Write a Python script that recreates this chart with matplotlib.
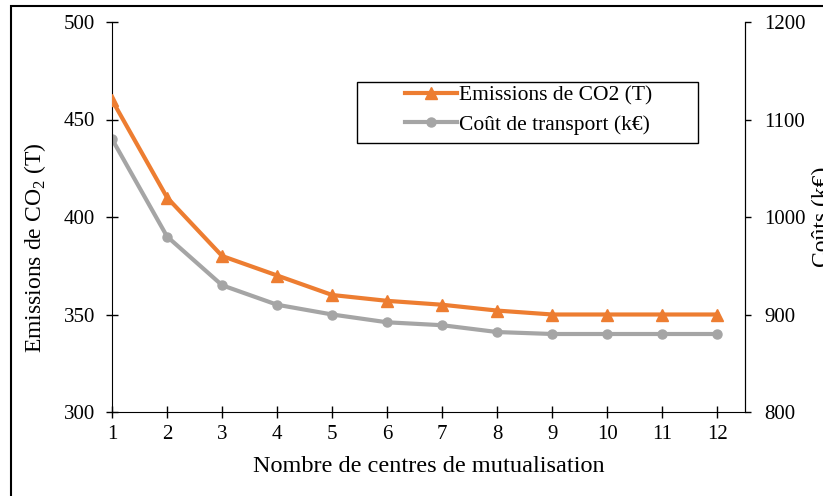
import matplotlib
matplotlib.use("Agg")
import matplotlib.pyplot as plt
from matplotlib.patches import Rectangle

plt.rcParams['font.family'] = ['Liberation Serif', 'DejaVu Serif']
plt.rcParams['mathtext.fontset'] = 'custom'
plt.rcParams['mathtext.rm'] = 'Liberation Serif'

centres = [1, 2, 3, 4, 5, 6, 7, 8, 9, 10, 11, 12]
emissions = [460, 410, 380, 370, 360, 357, 355, 352, 350, 350, 350, 350]
couts = [1080, 980, 930, 910, 900, 892, 889, 882, 880, 880, 880, 880]

orange = '#ED7D31'
gris = '#A5A5A5'
W, H = 823, 496

fig = plt.figure(figsize=(W / 100, H / 100), dpi=100)
ax = fig.add_axes([112 / W, 1 - 412 / H, (745 - 112) / W, (412 - 22) / H])
ax2 = ax.twinx()

l1, = ax.plot(centres, emissions, color=orange, lw=3, marker='^', ms=8,
              label='Emissions de CO2 (T)', zorder=3)
l2, = ax2.plot(centres, couts, color=gris, lw=3, marker='o', ms=6.5,
               label='Coût de transport (k€)', zorder=2)
ax.set_zorder(ax2.get_zorder() + 1)
ax.patch.set_visible(False)

ax.set_xlim(1, 12.5)
ax.set_ylim(300, 500)
ax2.set_ylim(800, 1200)
ax.set_xticks(centres)
ax.set_yticks([300, 350, 400, 450, 500])
ax2.set_yticks([800, 900, 1000, 1100, 1200])

for a in (ax, ax2):
    a.spines['top'].set_visible(False)
ax2.spines['left'].set_visible(False)
ax2.spines['bottom'].set_visible(False)

ax.tick_params(axis='both', direction='inout', length=8.5, width=1, labelsize=15)
ax.tick_params(axis='x', pad=5)
ax.tick_params(axis='y', pad=8)
ax2.tick_params(axis='y', direction='out', length=4, width=1, labelsize=15, pad=10)

ax.set_xlabel('Nombre de centres de mutualisation', fontsize=17.5, labelpad=9)
fig.text(35 / W, 1 - 248 / H, r'Emissions de CO$_\mathregular{2}$ (T)', rotation=90,
         fontsize=17, ha='center', va='center')
fig.text(812 / W, 1 - 217 / H, 'Coûts (k€)', rotation=90, fontsize=17,
         ha='left', va='center')

leg = fig.legend(handles=[l1, l2], loc='upper left',
                 bbox_to_anchor=(405 / W, 1 - 85 / H), fontsize=15.5,
                 frameon=False, borderpad=0,
                 handlelength=2.4, handletextpad=0.1, labelspacing=0.45,
                 borderaxespad=0)

fig.patches.append(Rectangle((357 / W, 1 - 143 / H), (698 - 357) / W, 61 / H,
                             transform=fig.transFigure, fill=False,
                             edgecolor='black', lw=1))

fig.patches.append(Rectangle((11 / W, -0.05), 1.2, 1 - 6 / H + 0.05,
                             transform=fig.transFigure, fill=False,
                             edgecolor='black', lw=1.5))

fig.savefig('out.png', dpi=100)
